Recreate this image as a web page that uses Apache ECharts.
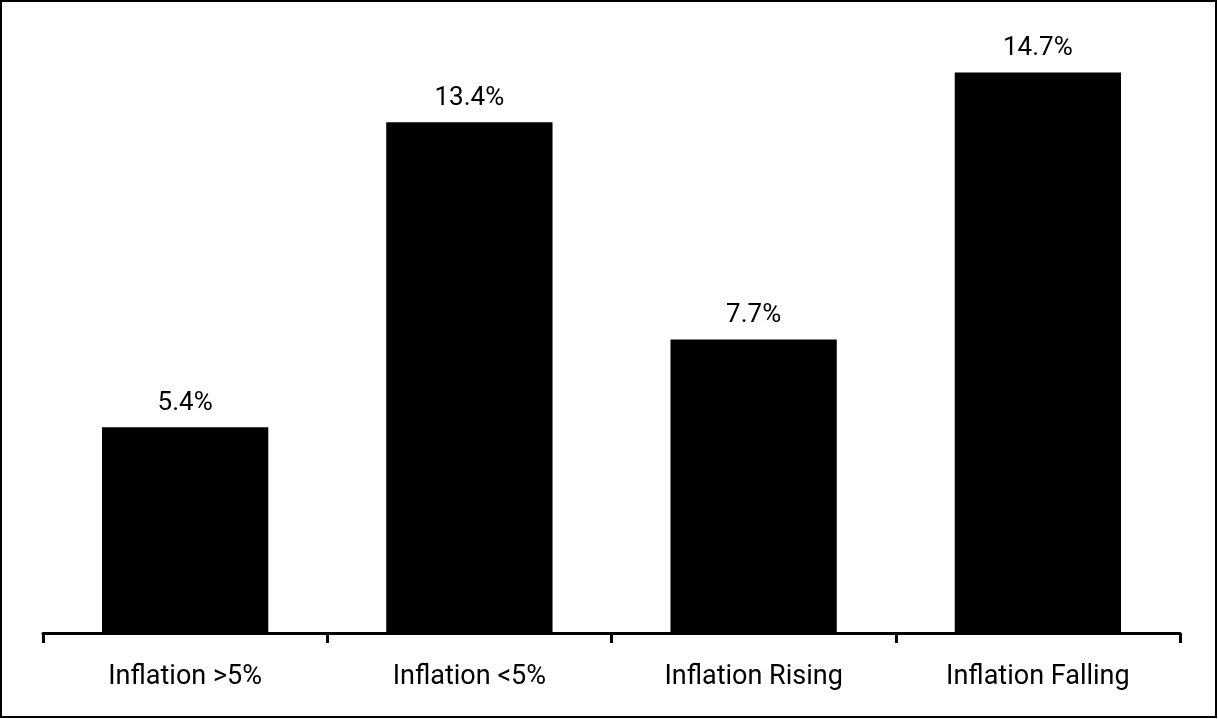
<!DOCTYPE html>
<html lang="en">
<head>
    <meta charset="utf-8">
    <title>Inflation returns</title>
    <script type="text/javascript" src="https://cdn.jsdelivr.net/npm/echarts@6/dist/echarts.min.js"></script>
    <style type="text/css">
        html, body {
            margin: 0;
            padding: 0;
            background: #ffffff;
        }

        #main {
            width: 1218px;
            height: 719px;
        }
    </style>
</head>
<body>
<div id="main"></div>
<script type="text/javascript">
    // 数据
    var categories = ["Inflation >5%", "Inflation <5%", "Inflation Rising", "Inflation Falling"];
    var values = [5.4, 13.4, 7.7, 14.7];

    var myChart = echarts.init(document.getElementById('main'));

    var option = {
        animation: false,
        backgroundColor: '#ffffff',
        graphic: [{
            type: 'rect',
            shape: {x: 1, y: 1, width: 1215, height: 716},
            style: {fill: 'none', stroke: '#000000', lineWidth: 2}
        }],
        grid: {
            left: 43,
            right: 38,
            top: 23,
            bottom: 86
        },
        xAxis: [{
            type: 'category',
            data: categories,
            axisLine: {
                show: true,
                lineStyle: {color: '#000000', width: 3}
            },
            axisTick: {
                show: true,
                length: 10,
                lineStyle: {color: '#000000', width: 3}
            },
            axisLabel: {
                interval: 0,
                margin: 31,
                color: '#000000',
                fontSize: 27,
                fontFamily: 'Roboto'
            }
        }],
        yAxis: [{
            type: 'value',
            min: 0,
            max: 16,
            show: false,
            splitLine: {show: false}
        }],
        series: [{
            type: 'bar',
            data: values,
            barWidth: '58.5%',
            itemStyle: {color: '#000000'},
            label: {
                show: true,
                position: 'top',
                distance: 11,
                color: '#000000',
                fontSize: 26,
                fontFamily: 'Roboto',
                formatter: function (p) {
                    return p.value.toFixed(1) + '%';
                }
            }
        }]
    };

    myChart.setOption(option);
</script>
</body>
</html>
